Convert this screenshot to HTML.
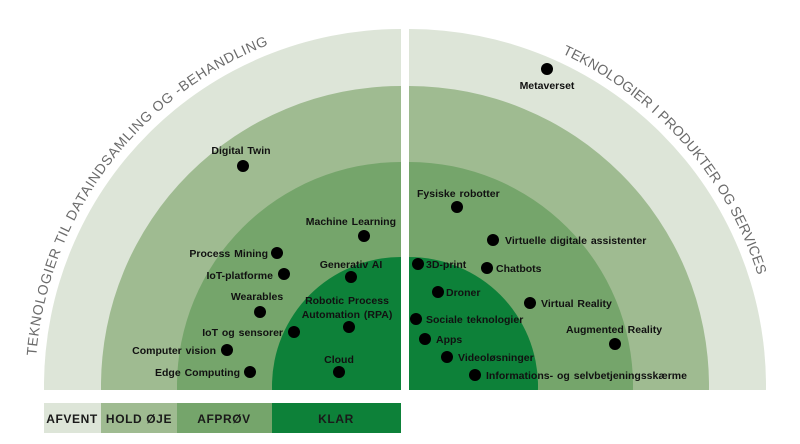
<!DOCTYPE html>
<html><head><meta charset="utf-8"><style>
html,body{margin:0;padding:0;background:#fff;width:800px;height:444px;overflow:hidden;}
svg{display:block;}
.l{font-family:"Liberation Sans",Arial,sans-serif;font-size:10.5px;font-weight:bold;fill:#111;word-spacing:1px;}
.t{font-family:"Liberation Sans",Arial,sans-serif;font-size:14px;fill:#6b6b6b;letter-spacing:1px;}
.g{font-family:"Liberation Sans",Arial,sans-serif;font-size:12px;font-weight:bold;fill:#1a1a1a;letter-spacing:0.6px;}
</style></head><body>
<svg width="800" height="444" viewBox="0 0 800 444" xmlns="http://www.w3.org/2000/svg">
<defs>
<clipPath id="cl"><rect x="0" y="0" width="401" height="390"/></clipPath>
<clipPath id="cr"><rect x="409" y="0" width="400" height="390"/></clipPath>
<path id="pl" d="M35,386 A366,366 0 0 1 401,20"/>
<path id="pr" d="M409,20 A366,366 0 0 1 775,386"/>
</defs>
<g clip-path="url(#cl)">
<circle cx="401" cy="386" r="357" fill="#dde5d8"/>
<circle cx="401" cy="386" r="300" fill="#9fbb91"/>
<circle cx="401" cy="386" r="224" fill="#75a56b"/>
<circle cx="401" cy="386" r="129" fill="#0d8139"/>
</g>
<g clip-path="url(#cr)">
<circle cx="409" cy="386" r="357" fill="#dde5d8"/>
<circle cx="409" cy="386" r="300" fill="#9fbb91"/>
<circle cx="409" cy="386" r="224" fill="#75a56b"/>
<circle cx="409" cy="386" r="129" fill="#0d8139"/>
</g>
<text class="t"><textPath href="#pl" startOffset="30" textLength="410">TEKNOLOGIER TIL DATAINDSAMLING OG -BEHANDLING</textPath></text>
<text class="t"><textPath href="#pr" startOffset="158" textLength="305">TEKNOLOGIER I PRODUKTER OG SERVICES</textPath></text>

<rect x="44" y="403" width="57" height="30" fill="#dde5d8"/>
<rect x="101" y="403" width="76" height="30" fill="#9fbb91"/>
<rect x="177" y="403" width="95" height="30" fill="#75a56b"/>
<rect x="272" y="403" width="129" height="30" fill="#0d8139"/>
<text class="g" x="72" y="423" text-anchor="middle">AFVENT</text>
<text class="g" x="139" y="423" text-anchor="middle">HOLD ØJE</text>
<text class="g" x="224" y="423" text-anchor="middle">AFPRØV</text>
<text class="g" x="336" y="423" text-anchor="middle">KLAR</text>

<g fill="#000">
<circle cx="547" cy="69" r="6"/><circle cx="243" cy="166" r="6"/><circle cx="364" cy="236" r="6"/>
<circle cx="277" cy="253" r="6"/><circle cx="284" cy="274" r="6"/><circle cx="351" cy="277" r="6"/>
<circle cx="260" cy="312" r="6"/><circle cx="349" cy="327" r="6"/><circle cx="294" cy="332" r="6"/>
<circle cx="227" cy="350" r="6"/><circle cx="250" cy="372" r="6"/><circle cx="339" cy="372" r="6"/>
<circle cx="457" cy="207" r="6"/><circle cx="493" cy="240" r="6"/><circle cx="418" cy="264" r="6"/>
<circle cx="487" cy="268" r="6"/><circle cx="438" cy="292" r="6"/><circle cx="530" cy="303" r="6"/>
<circle cx="416" cy="319" r="6"/><circle cx="615" cy="344" r="6"/><circle cx="425" cy="339" r="6"/>
<circle cx="447" cy="357" r="6"/><circle cx="475" cy="375" r="6"/>
</g>
<g class="l">
<text x="547" y="89" text-anchor="middle">Metaverset</text>
<text x="241" y="154" text-anchor="middle">Digital Twin</text>
<text x="396" y="225" text-anchor="end">Machine Learning</text>
<text x="268" y="257" text-anchor="end">Process Mining</text>
<text x="273" y="279" text-anchor="end">IoT-platforme</text>
<text x="351" y="268" text-anchor="middle">Generativ AI</text>
<text x="257" y="300" text-anchor="middle">Wearables</text>
<text x="347" y="304" text-anchor="middle">Robotic Process</text>
<text x="347" y="318" text-anchor="middle">Automation (RPA)</text>
<text x="283" y="336" text-anchor="end">IoT og sensorer</text>
<text x="216" y="354" text-anchor="end">Computer vision</text>
<text x="240" y="376" text-anchor="end">Edge Computing</text>
<text x="339" y="363" text-anchor="middle">Cloud</text>
<text x="417" y="197">Fysiske robotter</text>
<text x="505" y="244">Virtuelle digitale assistenter</text>
<text x="426" y="268">3D-print</text>
<text x="496" y="272">Chatbots</text>
<text x="446" y="296">Droner</text>
<text x="541" y="307">Virtual Reality</text>
<text x="426" y="323">Sociale teknologier</text>
<text x="566" y="333">Augmented Reality</text>
<text x="436" y="343">Apps</text>
<text x="458" y="361">Videoløsninger</text>
<text x="486" y="379">Informations- og selvbetjeningsskærme</text>
</g>
</svg>
</body></html>
